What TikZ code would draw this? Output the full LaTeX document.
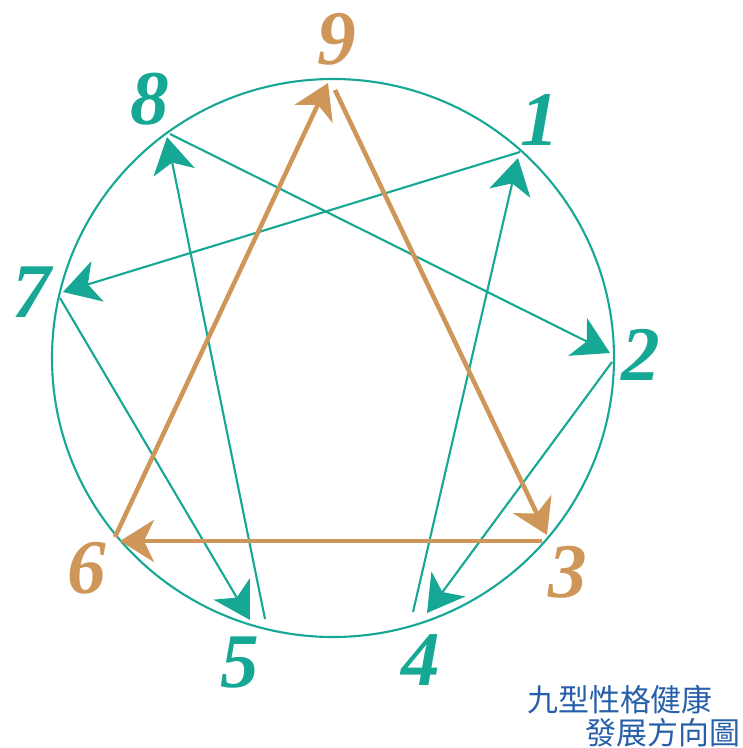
\documentclass[tikz,border=0pt]{standalone}
\usepackage{fontspec}
\setmainfont{Liberation Serif}
\newfontfamily\cjk{Noto Sans CJK TC}
\usetikzlibrary{arrows.meta}
\definecolor{gtteal}{RGB}{22,168,148}
\definecolor{gtorange}{RGB}{206,150,88}
\definecolor{gtblue}{RGB}{40,95,170}
\tikzset{
  numlabel/.style={inner sep=0pt, font=\fontsize{55}{55}\selectfont\bfseries\itshape},
  kteal/.style={numlabel, text=gtteal}, korange/.style={numlabel, text=gtorange},
  ktitle/.style={inner sep=0pt, text=gtblue, font=\cjk\fontsize{22}{22}\selectfont},
  tealflow/.style={-{Stealth[length=9mm, width=10.5mm, inset=2.5mm]}, draw=gtteal, fill=gtteal, line width=1.5pt},
  orangeflow/.style={-{Stealth[length=8.5mm, width=10.5mm, inset=2.5mm]}, draw=gtorange, fill=gtorange, line width=3.2pt},
}

\begin{document}
\begin{tikzpicture}[x=0.025cm, y=-0.025cm]
    \useasboundingbox (0,0) rectangle (742,748);
    \draw[gtteal, line width=1.5pt] (333,358) ellipse [x radius=281, y radius=279];
    % ends of the lines at each point
    \coordinate (in1) at (518,158); \coordinate (out1) at (520,152);
    \coordinate (in2) at (610,353); \coordinate (out2) at (612,362);
    \coordinate (in3) at (547,535); \coordinate (out3) at (542,541);
    \coordinate (in4) at (427,613); \coordinate (out4) at (413,612);
    \coordinate (in5) at (250,620); \coordinate (out5) at (265,619);
    \coordinate (in6) at (120,541); \coordinate (out6) at (115,537);
    \coordinate (in7) at (63,292);  \coordinate (out7) at (60,298);
    \coordinate (in8) at (167,137); \coordinate (out8) at (170,134);
    \coordinate (in9) at (328,83);  \coordinate (out9) at (335,90);
    \node[korange] (n9) at (337,39) {9};
    \node[kteal] (n1) at (540,120) {1};
    \node[kteal] (n2) at (641,355) {2};
    \node[korange] (n3) at (568,572) {3};
    \node[kteal] (n4) at (421,660) {4};
    \node[kteal] (n5) at (240,663) {5};
    \node[korange] (n6) at (87,568) {6};
    \node[kteal] (n7) at (32,292) {7};
    \node[kteal] (n8) at (150,99) {8};
    \draw[tealflow] (out4) -- (in1);
    \draw[tealflow] (out1) -- (in7);
    \draw[tealflow] (out7) -- (in5);
    \draw[tealflow] (out5) -- (in8);
    \draw[tealflow] (out8) -- (in2);
    \draw[tealflow] (out2) -- (in4);
    \draw[orangeflow] (out9) -- (in3);
    \draw[orangeflow] (out3) -- (in6);
    \draw[orangeflow] (out6) -- (in9);
    \node[ktitle] (title1) at (620,700) {九型性格健康};
    \node[ktitle] (title2) at (663,733) {發展方向圖};
  \end{tikzpicture}
\end{document}
